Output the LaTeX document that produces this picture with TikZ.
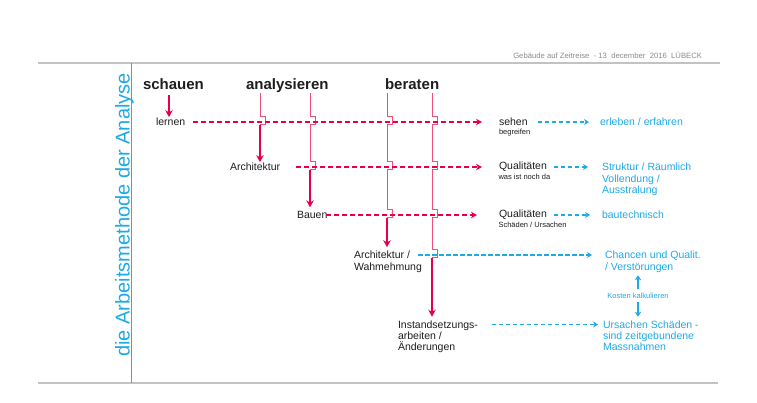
\documentclass[tikz,border=0pt]{standalone}
\usepackage{fontspec}
\setmainfont{Liberation Sans}
\usetikzlibrary{arrows.meta,calc}
\definecolor{crim}{RGB}{230,0,75}
\definecolor{crimthin}{RGB}{240,80,120}
\definecolor{sky}{RGB}{30,170,230}
\definecolor{ink}{RGB}{30,30,30}
\definecolor{rulecol}{RGB}{195,195,195}
\definecolor{headgray}{RGB}{140,140,140}
\begin{document}
\begin{tikzpicture}[x=1pt,y=-1pt,
  every node/.style={inner sep=0pt, outer sep=0pt},
  head/.style={font=\fontsize{15}{17}\selectfont\bfseries, text=ink, anchor=base west},
  txt/.style={font=\fontsize{10.5}{11.3}\selectfont, text=ink, anchor=west},
  mtxt/.style={font=\fontsize{10.5}{11.3}\selectfont, text=ink, anchor=north west, align=left},
  btxt/.style={txt, text=sky},
  mbtxt/.style={mtxt, text=sky},
  subtxt/.style={font=\fontsize{7.5}{8}\selectfont, text=ink, anchor=base west},
  rdash/.style={draw=crim, line width=1.6pt, dash pattern=on 5pt off 3pt, -{Stealth[length=6pt,width=6.5pt]}},
  bdash/.style={draw=sky, line width=1.3pt, dash pattern=on 4.5pt off 2.5pt, -{Stealth[length=5pt,width=6pt]}},
  tarr/.style={draw=crim, line width=1.8pt, -{Stealth[length=7pt,width=7.5pt]}},
  barr/.style={draw=sky, line width=1.4pt, -{Stealth[length=5pt,width=6.5pt]}},
  thinv/.style={draw=crimthin, line width=0.8pt},
  jmp/.style 2 args={insert path={-- (#1,#2-6) -- (#1+5.5,#2-6) -- (#1+5.5,#2+2.5) -- (#1,#2+2.5)}}
]
\fill[white] (0,0) rectangle (757,402);
\useasboundingbox (0,0) rectangle (757,402);

% frame rules
\draw[rulecol, line width=1.5pt] (38,63) -- (720,63);
\draw[rulecol, line width=1.2pt] (38,383) -- (718,383);
\draw[headgray, line width=0.7pt] (131,63) -- (131,383);

\node[font=\fontsize{7.7}{9}\selectfont, text=headgray, anchor=base east] (hdr) at (702,58.5)
  {Gebäude auf Zeitreise\ \ -\ 13\ \ december\ \ 2016\ \ LÜBECK};

\node[font=\fontsize{20}{22}\selectfont, text=sky, rotate=90, anchor=base] (side) at (129.5,215)
  {die Arbeitsmethode der Analyse};

% row coordinates
\coordinate (r1) at (0,122);
\coordinate (r2) at (0,167);
\coordinate (r3) at (0,215);
\coordinate (r4) at (0,255);
\coordinate (r5) at (0,324.5);

% headings
\node[head] (schauen) at (143,89) {schauen};
\node[head] (ana) at (246,89) {analysieren};
\node[head] (ber) at (385,89) {beraten};

% left column texts
\node[txt] (lernen) at (156,122) {lernen};
\node[txt] (archA) at (230,167) {Architektur};
\node[txt] (bauen) at (297,215) {Bauen};
\node[mtxt] (arch2) at (354,251.2) {Architektur /\\Wahmehmung};
\node[mtxt] (instand) at (398,320.7) {Instandsetzungs-\\arbeiten /\\Änderungen};

% middle column
\node[txt] (sehen) at (499,122) {sehen};
\node[subtxt] (begr) at (499,134) {begreifen};
\node[txt] (qual1) at (499,167) {Qualitäten};
\node[subtxt] (noch) at (498.5,179) {was ist noch da};
\node[txt] (qual2) at (499,215) {Qualitäten};
\node[subtxt] (schaed) at (498.5,227) {Schäden / Ursachen};

% right column
\node[btxt] (erleben) at (600,122) {erleben / erfahren};
\node[mbtxt] (struktur) at (602,163.2) {Struktur / Räumlich\\Vollendung /\\Ausstralung};
\node[btxt] (bautech) at (602,215) {bautechnisch};
\node[mbtxt] (chancen) at (605,251.2) {Chancen und Qualit.\\/ Verstörungen};
\node[font=\fontsize{7.5}{8}\selectfont, text=sky] (kosten) at (638,296) {Kosten kalkulieren};
\node[mbtxt] (ursachen) at (603,320.7) {Ursachen Schäden -\\sind zeitgebundene\\Massnahmen};

% schauen arrow
\coordinate (s1) at (169,0);
\draw[tarr, shorten <=6pt, shorten >=1pt] (schauen.base -| s1) -- (lernen.north -| s1);

% vertical lines with jumps
\coordinate (v1) at (260,93);
\coordinate (v2) at (310,93);
\coordinate (v3) at (387,93);
\coordinate (v4) at (432,93);

\draw[thinv] (v1) [jmp={260}{122}] coordinate (e1);
\draw[thinv] (v2) [jmp={310}{122}] [jmp={310}{167}] coordinate (e2);
\draw[thinv] (v3) [jmp={387}{122}] [jmp={387}{167}] [jmp={387}{215}] coordinate (e3);
\draw[thinv] (v4) [jmp={432}{122}] [jmp={432}{167}] [jmp={432}{215}] [jmp={432}{255}] coordinate (e4);

\draw[tarr, shorten >=1pt] (e1) -- (e1 |- archA.north);
\draw[tarr, shorten >=4pt] (e2) -- (e2 |- bauen.north);
\draw[tarr, shorten >=4pt] (e3) -- (e3 |- arch2.north);
\draw[tarr, shorten >=4pt] (e4) -- (e4 |- instand.north);

% crimson dashed rows
\draw[rdash, shorten <=8pt, shorten >=17pt] (lernen.east) -- (sehen.west);
\draw[rdash, shorten <=16pt, shorten >=17pt] (archA.east) -- (qual1.west);
\draw[rdash, shorten <=-1pt, shorten >=22pt] (bauen.east) -- (qual2.west);

% blue dashed rows
\draw[bdash, shorten <=10pt, shorten >=11pt] (sehen.east) -- (erleben.west);
\draw[bdash, shorten <=7pt, shorten >=14pt] (qual1.east) -- (struktur.west |- r2);
\draw[bdash, shorten <=7pt, shorten >=12pt] (qual2.east) -- (bautech.west);
\draw[bdash, shorten <=64pt, shorten >=13pt] (arch2.north west |- r4) -- (chancen.north west |- r4);
\draw[bdash, shorten <=14pt, shorten >=5pt] (instand.north east |- r5) -- (ursachen.north west |- r5);

% Kosten arrows
\draw[barr, shorten <=4pt, shorten >=3pt] (kosten.north) -- (kosten.north |- chancen.south);
\draw[barr, shorten <=3pt, shorten >=4pt] (kosten.south) -- (kosten.south |- ursachen.north);
\end{tikzpicture}
\end{document}
